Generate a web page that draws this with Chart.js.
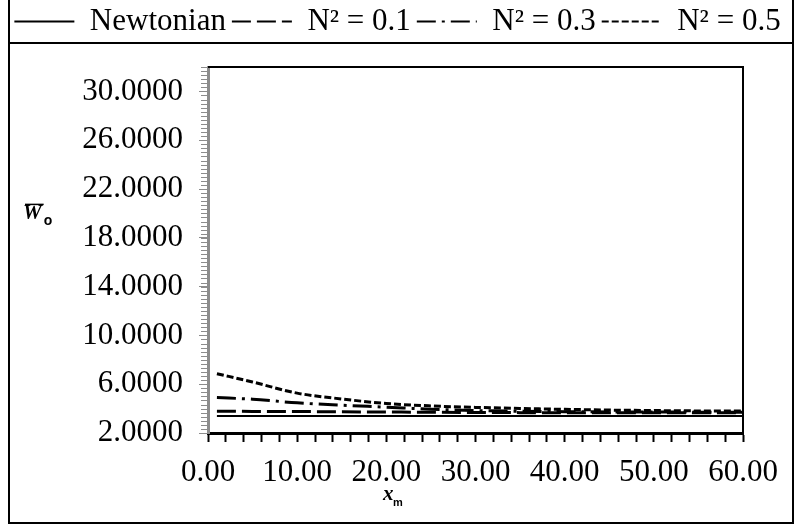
<!DOCTYPE html>
<html>
<head>
<meta charset="utf-8">
<script src="https://cdn.jsdelivr.net/npm/chart.js@4.4.0/dist/chart.umd.min.js"></script>
<style>
  html, body { margin: 0; padding: 0; background: #fff; }
</style>
</head>
<body>
<canvas id="chart" width="795" height="527"></canvas>
<script>
// values
const xValues = [1, 5, 10, 15, 20, 25, 30, 35, 40, 45, 50, 55, 60];
const newtonian = [3.39, 3.39, 3.39, 3.39, 3.39, 3.39, 3.39, 3.39, 3.39, 3.39, 3.39, 3.39, 3.39];
const n01 = [3.78, 3.77, 3.76, 3.74, 3.72, 3.70, 3.68, 3.67, 3.66, 3.66, 3.65, 3.65, 3.65];
const n03 = [4.90, 4.77, 4.47, 4.28, 4.12, 3.95, 3.84, 3.78, 3.75, 3.73, 3.72, 3.71, 3.70];
const n05 = [6.86, 6.18, 5.27, 4.79, 4.42, 4.22, 4.10, 4.01, 3.94, 3.88, 3.84, 3.81, 3.80];
const seriesNames = ["Newtonian", "N\u00b2 = 0.1", "N\u00b2 = 0.3", "N\u00b2 = 0.5"];
const yTicks = [2, 6, 10, 14, 18, 22, 26, 30];
const xTicks = [0, 10, 20, 30, 40, 50, 60];

const FONT = "'Liberation Serif', 'Times New Roman', serif";

function pts(ys) {
  return xValues.map((x, i) => ({ x: x, y: ys[i] }));
}

function line(label, ys, dash, width) {
  return {
    label: label,
    data: pts(ys),
    borderColor: "#000",
    backgroundColor: "#000",
    borderWidth: width,
    borderDash: dash,
    pointRadius: 0,
    cubicInterpolationMode: "monotone",
    fill: false,
  };
}

// frame, plot border, y minor ticks and the two axis titles
const decorations = {
  id: "decorations",
  beforeLayout(chart) {
    const lg = chart.legend;
    if (lg && !lg._patched) {
      const fit = lg.fit;
      lg.fit = function () {
        fit.call(this);
        this.height = 67;
      };
      lg._patched = true;
    }
  },
  afterDraw(chart) {
    const ctx = chart.ctx;
    const a = chart.chartArea;
    const ys = chart.scales.y;
    const xs = chart.scales.x;
    const W = chart.width;
    const H = chart.height;
    ctx.save();

    // outer frame (open at the top) + legend separator
    ctx.strokeStyle = "#000";
    ctx.lineWidth = 2;
    ctx.beginPath();
    ctx.moveTo(9, 0);
    ctx.lineTo(9, H - 4);
    ctx.lineTo(W - 2, H - 4);
    ctx.lineTo(W - 2, 0);
    ctx.moveTo(9, 43);
    ctx.lineTo(W - 2, 43);
    ctx.stroke();

    // top and right border of plot area
    ctx.beginPath();
    ctx.moveTo(a.left, a.top);
    ctx.lineTo(a.right, a.top);
    ctx.lineTo(a.right, a.bottom);
    ctx.stroke();

    // minor ticks on y axis
    ctx.strokeStyle = "#8c8c8c";
    ctx.lineWidth = 1;
    ctx.beginPath();
    for (let v = ys.min; v <= ys.max + 1e-6; v += 1 / 3) {
      const py = Math.round(ys.getPixelForValue(v)) + 0.5;
      ctx.moveTo(a.left - 7, py);
      ctx.lineTo(a.left, py);
    }
    ctx.stroke();

    // y title: W-bar with subscript o
    ctx.fillStyle = "#000";
    ctx.textBaseline = "alphabetic";
    const ty = ys.getPixelForValue(20);
    ctx.font = "bold italic 21px " + FONT;
    ctx.fillText("W", 23, ty + 6);
    const ww = ctx.measureText("W").width;
    ctx.lineWidth = 1.5;
    ctx.strokeStyle = "#000";
    ctx.beginPath();
    ctx.moveTo(25, ty - 9);
    ctx.lineTo(25 + ww, ty - 9);
    ctx.stroke();
    ctx.font = "bold 14px 'Liberation Sans', Arial, sans-serif";
    ctx.fillText("o", 25 + ww, ty + 12);

    // x title: x with subscript m
    const tx = xs.getPixelForValue(20.3);
    ctx.font = "bold italic 21px " + FONT;
    ctx.fillText("x", tx - 6, 500);
    ctx.font = "bold 11px 'Liberation Sans', Arial, sans-serif";
    ctx.fillText("m", tx + 4, 506);

    ctx.restore();
  },
};

new Chart(document.getElementById("chart"), {
  type: "line",
  data: {
    datasets: [
      line(seriesNames[0], newtonian, [], 2),
      line(seriesNames[1], n01, [19, 6], 3),
      line(seriesNames[2], n03, [19, 6, 3, 6], 3),
      line(seriesNames[3], n05, [7, 3], 3),
    ],
  },
  options: {
    responsive: false,
    animation: false,
    layout: {
      padding: 0,
    },
    plugins: {
      tooltip: { enabled: false },
      legend: {
        position: "top",
        align: "center",
        labels: {
          usePointStyle: true,
          pointStyle: "line",
          pointStyleWidth: 60,
          padding: 6,
          color: "#000",
          font: { family: FONT, size: 31 },
          generateLabels: (chart) => {
            const items = Chart.defaults.plugins.legend.labels.generateLabels(chart);
            items.forEach((it) => {
              const ds = chart.data.datasets[it.datasetIndex];
              it.lineDash = ds.borderDash;
              it.lineWidth = 2;
              it.strokeStyle = "#000";
            });
            return items;
          },
        },
      },
    },
    scales: {
      x: {
        type: "linear",
        min: 0,
        max: 60,
        afterFit: (s) => { s.height = 94; },
        grid: {
          drawOnChartArea: false,
          tickLength: 9,
          tickWidth: 2,
          tickColor: "#000",
        },
        border: { color: "#000", width: 3 },
        ticks: {
          stepSize: 2,
          autoSkip: false,
          maxRotation: 0,
          padding: 12,
          color: "#000",
          font: { family: FONT, size: 31 },
          callback: (v) => (xTicks.includes(v) ? v.toFixed(2) : ""),
        },
      },
      y: {
        min: 2,
        max: 32,
        afterFit: (s) => { s.width = 208; },
        afterBuildTicks: (axis) => {
          axis.ticks = yTicks.map((v) => ({ value: v }));
        },
        grid: {
          drawOnChartArea: false,
          tickLength: 9,
          tickColor: "#8c8c8c",
        },
        border: { color: "#8c8c8c", width: 3 },
        ticks: {
          padding: 16,
          color: "#000",
          font: { family: FONT, size: 31 },
          callback: (v) => Number(v).toFixed(4),
        },
      },
      // empty right axis that only reserves the margin right of the plot
      yRight: {
        position: "right",
        afterFit: (s) => { s.width = 52; },
        grid: { display: false, drawTicks: false },
        border: { display: false },
        ticks: { display: false },
      },
    },
  },
  plugins: [decorations],
});
</script>
</body>
</html>
